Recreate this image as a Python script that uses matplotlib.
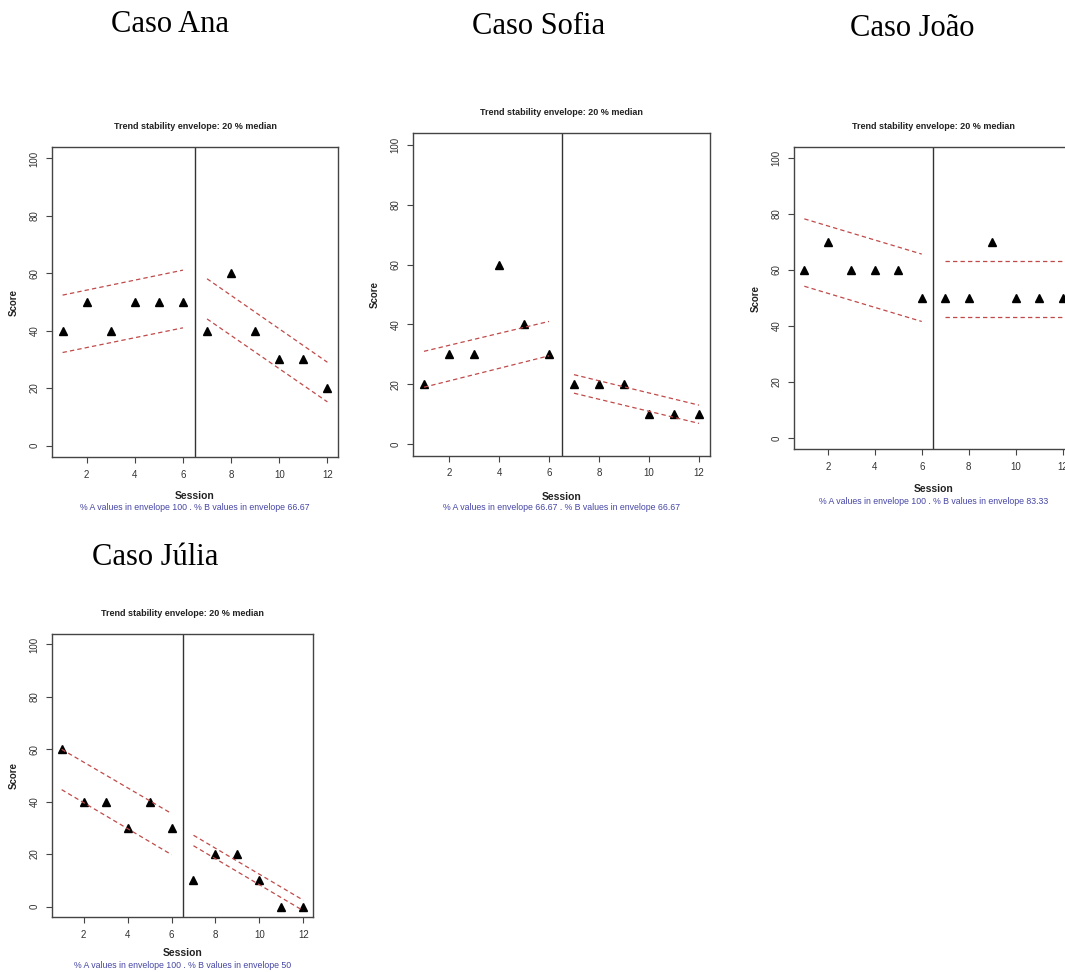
import matplotlib
matplotlib.use("Agg")
import matplotlib.pyplot as plt

# figure size in pixels
W, H = 1065, 972

sessions_a = [1, 2, 3, 4, 5, 6]
sessions_b = [7, 8, 9, 10, 11, 12]

# case names and scores (phase A / phase B)
cases = ["Caso Ana", "Caso Sofia", "Caso João", "Caso Júlia"]
ana_a = [40, 50, 40, 50, 50, 50]
ana_b = [40, 60, 40, 30, 30, 20]
sofia_a = [20, 30, 30, 60, 40, 30]
sofia_b = [20, 20, 20, 10, 10, 10]
joao_a = [60, 70, 60, 60, 60, 50]
joao_b = [50, 50, 70, 50, 50, 50]
julia_a = [60, 40, 40, 30, 40, 30]
julia_b = [10, 20, 20, 10, 0, 0]

# envelope lines: (value at start, value at end)
ana_env_a = [(52.4, 61.1), (32.4, 41.0)]
ana_env_b = [(58.1, 29.0), (44.1, 15.2)]
sofia_env_a = [(31.0, 41.0), (19.0, 29.5)]
sofia_env_b = [(23.2, 13.0), (17.0, 6.9)]
joao_env_a = [(78.3, 65.7), (54.2, 41.6)]
joao_env_b = [(63.3, 63.3), (43.3, 43.3)]
julia_env_a = [(60.0, 35.5), (44.6, 19.8)]
julia_env_b = [(27.2, 2.4), (23.2, -1.6)]

pct_a = ["100", "66.67", "100", "100"]
pct_b = ["66.67", "66.67", "83.33", "50"]

# axes boxes in pixels: left, top, right, bottom
boxes = [(52, 147, 338, 457), (413, 133, 710, 456),
         (794, 147, 1073, 449), (52, 634, 313, 917)]
# caption centres in pixels
captions = [(170, 24), (539, 27), (912, 28), (155, 557)]
# distance (px) of "Session" and subtitle below the axes
below = [(39, 50), (41, 51), (40, 52), (36, 48)]

data_a = [ana_a, sofia_a, joao_a, julia_a]
data_b = [ana_b, sofia_b, joao_b, julia_b]
env_a = [ana_env_a, sofia_env_a, joao_env_a, julia_env_a]
env_b = [ana_env_b, sofia_env_b, joao_env_b, julia_env_b]

plt.rcParams['font.family'] = ['Liberation Sans', 'DejaVu Sans']

fig = plt.figure(figsize=(W / 100, H / 100), dpi=100)
fig.patch.set_facecolor('white')

env_color = '#c04a4a'
sub_color = '#4646a6'

for i in range(4):
    l, t, r, b = boxes[i]
    ax = fig.add_axes([l / W, 1 - b / H, (r - l) / W, (b - t) / H])

    ax.plot(sessions_a, data_a[i], '^', color='black', markersize=5.5)
    ax.plot(sessions_b, data_b[i], '^', color='black', markersize=5.5)
    for up, lo in [env_a[i][0], env_a[i][1]]:
        ax.plot([sessions_a[0], sessions_a[-1]], [up, lo], color=env_color,
                linestyle=(0, (3.5, 2.5)), linewidth=0.9)
    for up, lo in [env_b[i][0], env_b[i][1]]:
        ax.plot([sessions_b[0], sessions_b[-1]], [up, lo], color=env_color,
                linestyle=(0, (3.5, 2.5)), linewidth=0.9)
    ax.axvline(6.5, color='#333333', linewidth=1)

    ax.set_xlim(0.56, 12.44)
    ax.set_ylim(-4, 104)
    ax.set_xticks([2, 4, 6, 8, 10, 12])
    ax.set_yticks([0, 20, 40, 60, 80, 100])
    ax.tick_params(direction='out', length=4, width=0.8, colors='#444444',
                   labelsize=7, labelcolor='#333333', pad=5)
    for lab in ax.get_yticklabels():
        lab.set_rotation(90)
        lab.set_va('center')
    for s in ax.spines.values():
        s.set_color('#444444')
        s.set_linewidth(1)

    ax.set_title("Trend stability envelope: 20 % median", fontsize=6.5,
                 fontweight='bold', pad=13, color='#222222')
    ax.set_ylabel("Score", fontsize=7, fontweight='bold', labelpad=8,
                  color='#222222')
    ax.annotate("Session", xy=(0.5, 0), xycoords='axes fraction',
                xytext=(0, -below[i][0] * 0.72), textcoords='offset points',
                ha='center', va='center', fontsize=7.5, fontweight='bold',
                color='#222222')
    ax.annotate("% A values in envelope " + pct_a[i] + " . % B values in envelope " + pct_b[i],
                xy=(0.5, 0), xycoords='axes fraction',
                xytext=(0, -below[i][1] * 0.72), textcoords='offset points',
                ha='center', va='center', fontsize=6.3, color=sub_color)

    cx, cy = captions[i]
    fig.text(cx / W, 1 - cy / H, cases[i], ha='center', va='center',
             fontsize=22, family=['Liberation Serif', 'DejaVu Serif'])

fig.savefig("out.png", dpi=100, facecolor='white')
